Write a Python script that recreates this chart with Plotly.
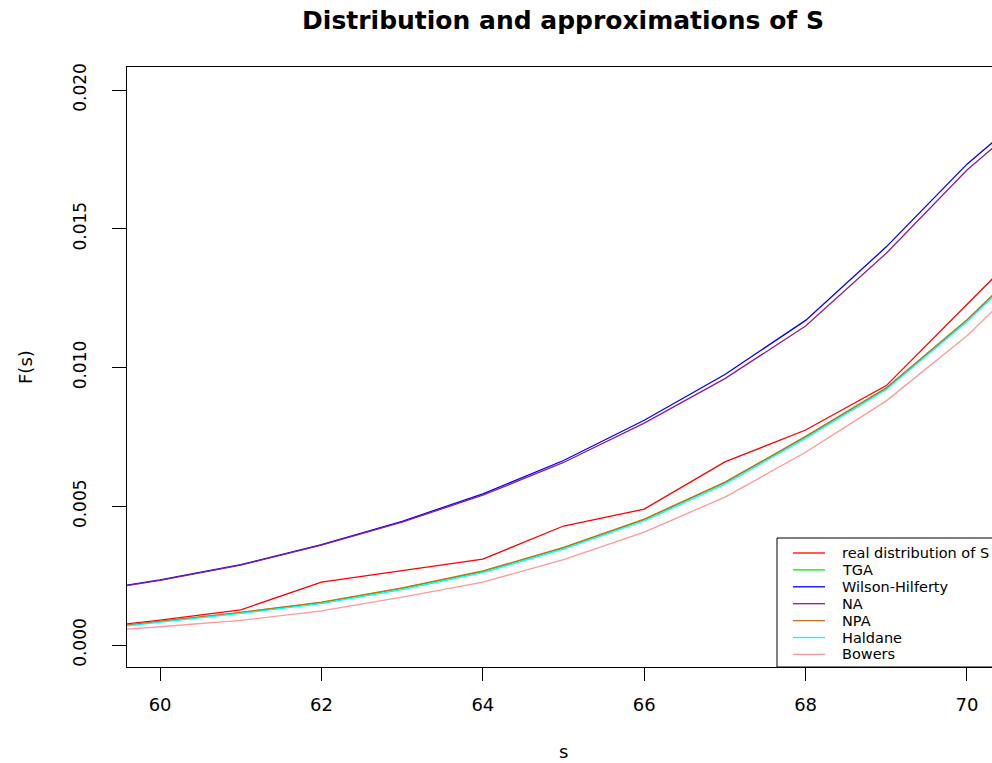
import plotly.graph_objects as go

# Evaluation points
s_values = [59, 60, 61, 62, 63, 64, 65, 66, 67, 68, 69, 70, 71]

# Empirical distribution and approximations of F(s)
real_dist = [0.00056, 0.00090, 0.00127, 0.00227, 0.00268, 0.00310, 0.00429, 0.00490, 0.00660, 0.00775, 0.00935, 0.01225, 0.01520]
tga = [0.00053, 0.00085, 0.00117, 0.00153, 0.00204, 0.00265, 0.00350, 0.00452, 0.00585, 0.00750, 0.00925, 0.01170, 0.01450]
wilson_hilferty = [0.00189, 0.00235, 0.00290, 0.00362, 0.00446, 0.00545, 0.00665, 0.00810, 0.00975, 0.01170, 0.01435, 0.01733, 0.01980]
na = [0.00187, 0.00233, 0.00288, 0.00360, 0.00443, 0.00540, 0.00658, 0.00800, 0.00960, 0.01150, 0.01412, 0.01712, 0.01960]
npa = [0.00054, 0.00086, 0.00118, 0.00155, 0.00206, 0.00267, 0.00352, 0.00454, 0.00587, 0.00752, 0.00927, 0.01172, 0.01452]
haldane = [0.00050, 0.00082, 0.00114, 0.00149, 0.00200, 0.00261, 0.00346, 0.00447, 0.00580, 0.00745, 0.00921, 0.01165, 0.01445]
bowers = [0.00046, 0.00066, 0.00089, 0.00123, 0.00173, 0.00227, 0.00308, 0.00407, 0.00533, 0.00695, 0.00880, 0.01115, 0.01395]

series_names = ["real distribution of S", "TGA", "Wilson-Hilferty", "NA", "NPA", "Haldane", "Bowers"]
series_values = [real_dist, tga, wilson_hilferty, na, npa, haldane, bowers]
series_colors = ["#FF0000", "#00EE00", "#0000FF", "#8A1E9A", "#D2691E", "#00FFFF", "#FF9999"]

x_ticks = [60, 62, 64, 66, 68, 70]
y_ticks = [0.000, 0.005, 0.010, 0.015, 0.020]
y_tick_labels = ["0.000", "0.005", "0.010", "0.015", "0.020"]

W, H = 992, 763
ML, MR, MT, MB = 127, 0, 67, 96
plot_w = W - ML - MR
plot_h = H - MT - MB

fig = go.Figure()
for name, vals, col in zip(series_names, series_values, series_colors):
    fig.add_trace(go.Scatter(x=s_values, y=vals, mode="lines", name=name,
                             line=dict(color=col, width=1.3), showlegend=False))


def px_x(px):
    return (px - ML) / plot_w


def px_y(py):
    return (H - MB - py) / plot_h


# Legend box in the lower right corner
shapes = [dict(type="rect", xref="paper", yref="paper",
               x0=px_x(777), x1=px_x(1010), y0=0, y1=px_y(538),
               line=dict(color="black", width=1), fillcolor="white", layer="above")]
annotations = []
for i, (name, col) in enumerate(zip(series_names, series_colors)):
    yc = px_y(553 + 16.9 * i)
    shapes.append(dict(type="line", xref="paper", yref="paper",
                       x0=px_x(793), x1=px_x(825), y0=yc, y1=yc,
                       line=dict(color=col, width=1.3), layer="above"))
    annotations.append(dict(xref="paper", yref="paper", x=px_x(840), y=yc,
                            text=name, showarrow=False, xanchor="left", yanchor="middle",
                            font=dict(family="DejaVu Sans", size=14.5, color="black")))

# Axis titles
annotations.append(dict(xref="paper", yref="paper", x=px_x(563), y=px_y(751),
                        text="s", showarrow=False, xanchor="center", yanchor="middle",
                        font=dict(family="DejaVu Sans", size=18, color="black")))
annotations.append(dict(xref="paper", yref="paper", x=px_x(25), y=px_y(367),
                        text="F(s)", showarrow=False, textangle=-90,
                        xanchor="center", yanchor="middle",
                        font=dict(family="DejaVu Sans", size=18, color="black")))

fig.update_layout(
    width=W, height=H,
    margin=dict(l=ML, r=MR, t=MT, b=MB, pad=0),
    paper_bgcolor="white", plot_bgcolor="white",
    title=dict(text="Distribution and approximations of S",
               x=563 / W, xref="container", xanchor="center",
               y=1 - 20 / H, yref="container", yanchor="middle",
               font=dict(family="DejaVu Sans", size=25, color="black", weight="bold")),
    shapes=shapes,
    annotations=annotations,
    showlegend=False,
)

fig.update_xaxes(range=[59.59, 70.31], tickvals=x_ticks, ticks="outside", ticklen=13,
                 tickcolor="black", showline=True, linecolor="black", linewidth=1,
                 mirror=True, showgrid=False, zeroline=False, ticklabelstandoff=8,
                 tickfont=dict(family="DejaVu Sans", size=18, color="black"))
fig.update_yaxes(range=[-0.00079, 0.02083], tickvals=y_ticks, ticktext=y_tick_labels,
                 ticks="outside", ticklen=14, tickcolor="black", tickangle=-90,
                 showline=True, linecolor="black", linewidth=1, mirror=False,
                 showgrid=False, zeroline=False, ticklabelstandoff=19,
                 tickfont=dict(family="DejaVu Sans", size=17, color="black"))

fig.write_html("out.html")
